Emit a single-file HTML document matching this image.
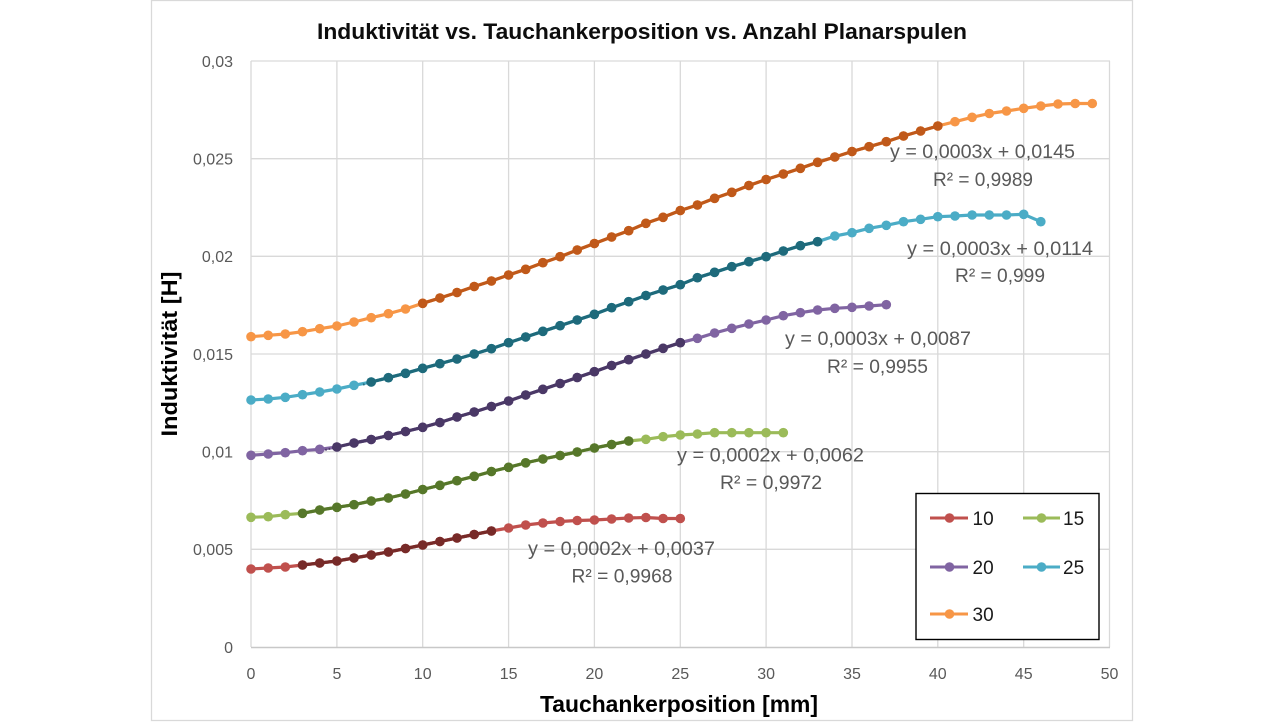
<!DOCTYPE html>
<html>
<head>
<meta charset="utf-8">
<style>
  html,body{margin:0;padding:0;background:#fff;}
  svg{display:block;}
  text{font-family:"Liberation Sans",Arial,sans-serif;}
</style>
</head>
<body>
<svg width="1280" height="722" viewBox="0 0 1280 722" xmlns="http://www.w3.org/2000/svg">
  <defs>
    <marker id="mR" markerUnits="userSpaceOnUse" markerWidth="12" markerHeight="12" refX="6" refY="6" viewBox="0 0 12 12"><circle cx="6" cy="6" r="4.8" fill="#C0504D"/></marker>
    <marker id="mRd" markerUnits="userSpaceOnUse" markerWidth="12" markerHeight="12" refX="6" refY="6" viewBox="0 0 12 12"><circle cx="6" cy="6" r="4.8" fill="#772A28"/></marker>
    <marker id="mG" markerUnits="userSpaceOnUse" markerWidth="12" markerHeight="12" refX="6" refY="6" viewBox="0 0 12 12"><circle cx="6" cy="6" r="4.8" fill="#9BBB59"/></marker>
    <marker id="mGd" markerUnits="userSpaceOnUse" markerWidth="12" markerHeight="12" refX="6" refY="6" viewBox="0 0 12 12"><circle cx="6" cy="6" r="4.8" fill="#56772A"/></marker>
    <marker id="mP" markerUnits="userSpaceOnUse" markerWidth="12" markerHeight="12" refX="6" refY="6" viewBox="0 0 12 12"><circle cx="6" cy="6" r="4.8" fill="#8064A2"/></marker>
    <marker id="mPd" markerUnits="userSpaceOnUse" markerWidth="12" markerHeight="12" refX="6" refY="6" viewBox="0 0 12 12"><circle cx="6" cy="6" r="4.8" fill="#4A3866"/></marker>
    <marker id="mC" markerUnits="userSpaceOnUse" markerWidth="12" markerHeight="12" refX="6" refY="6" viewBox="0 0 12 12"><circle cx="6" cy="6" r="4.8" fill="#4BACC6"/></marker>
    <marker id="mCd" markerUnits="userSpaceOnUse" markerWidth="12" markerHeight="12" refX="6" refY="6" viewBox="0 0 12 12"><circle cx="6" cy="6" r="4.8" fill="#1E6A7B"/></marker>
    <marker id="mO" markerUnits="userSpaceOnUse" markerWidth="12" markerHeight="12" refX="6" refY="6" viewBox="0 0 12 12"><circle cx="6" cy="6" r="4.8" fill="#F79646"/></marker>
    <marker id="mOd" markerUnits="userSpaceOnUse" markerWidth="12" markerHeight="12" refX="6" refY="6" viewBox="0 0 12 12"><circle cx="6" cy="6" r="4.8" fill="#C0591A"/></marker>
  </defs>

  <rect x="0" y="0" width="1280" height="722" fill="#fff"/>
  <rect x="151.5" y="0.5" width="981" height="720" fill="#fff" stroke="#D9D9D9" stroke-width="1.3"/>

  <g stroke="#D9D9D9" stroke-width="1.3">
    <line x1="251" y1="61" x2="1110" y2="61"/>
    <line x1="251" y1="158.7" x2="1110" y2="158.7"/>
    <line x1="251" y1="256.3" x2="1110" y2="256.3"/>
    <line x1="251" y1="354" x2="1110" y2="354"/>
    <line x1="251" y1="451.7" x2="1110" y2="451.7"/>
    <line x1="251" y1="549.3" x2="1110" y2="549.3"/>
    <line x1="251" y1="61" x2="251" y2="647"/>
    <line x1="336.9" y1="61" x2="336.9" y2="647"/>
    <line x1="422.7" y1="61" x2="422.7" y2="647"/>
    <line x1="508.6" y1="61" x2="508.6" y2="647"/>
    <line x1="594.4" y1="61" x2="594.4" y2="647"/>
    <line x1="680.3" y1="61" x2="680.3" y2="647"/>
    <line x1="766.1" y1="61" x2="766.1" y2="647"/>
    <line x1="852" y1="61" x2="852" y2="647"/>
    <line x1="937.8" y1="61" x2="937.8" y2="647"/>
    <line x1="1023.7" y1="61" x2="1023.7" y2="647"/>
    <line x1="1109.5" y1="61" x2="1109.5" y2="647"/>
  </g>
  <line x1="251" y1="647.5" x2="1110" y2="647.5" stroke="#C8C8C8" stroke-width="1.5"/>

  <g fill="#595959" font-size="16" text-anchor="end">
    <text x="233" y="653">0</text>
    <text x="233" y="555">0,005</text>
    <text x="233" y="457.5">0,01</text>
    <text x="233" y="360">0,015</text>
    <text x="233" y="262">0,02</text>
    <text x="233" y="164.5">0,025</text>
    <text x="233" y="67">0,03</text>
  </g>
  <g fill="#595959" font-size="16" text-anchor="middle">
    <text x="251" y="679">0</text>
    <text x="336.9" y="679">5</text>
    <text x="422.7" y="679">10</text>
    <text x="508.6" y="679">15</text>
    <text x="594.4" y="679">20</text>
    <text x="680.3" y="679">25</text>
    <text x="766.1" y="679">30</text>
    <text x="852" y="679">35</text>
    <text x="937.8" y="679">40</text>
    <text x="1023.7" y="679">45</text>
    <text x="1109.5" y="679">50</text>
  </g>

  <text x="317" y="39" font-size="22" font-weight="bold" fill="#0D0D0D" textLength="650" lengthAdjust="spacingAndGlyphs">Induktivität vs. Tauchankerposition vs. Anzahl Planarspulen</text>
  <text x="540" y="712" font-size="23" font-weight="bold" fill="#000" textLength="278" lengthAdjust="spacingAndGlyphs">Tauchankerposition [mm]</text>
  <text transform="translate(177,354) rotate(-90)" x="0" y="0" text-anchor="middle" font-size="22" font-weight="bold" fill="#000" textLength="165" lengthAdjust="spacingAndGlyphs">Induktivität [H]</text>

  <g fill="none" stroke-width="3.2" stroke-linejoin="round">
    <polyline stroke="#C0504D" marker-start="url(#mR)" marker-mid="url(#mR)" marker-end="url(#mR)"
      points="251,569 268.2,568 285.3,567 302.5,565 319.7,563 336.9,561 354,558 371.2,555 388.4,552 405.5,548.5 422.7,545 439.9,541.5 457,538 474.2,534.5 491.4,531 508.6,528 525.7,525 542.9,523 560.1,521.5 577.2,520.5 594.4,520 611.6,519 628.7,518 645.9,517.5 663.1,518.5 680.3,518.5"/>
    <polyline stroke="#772A28" marker-start="url(#mRd)" marker-mid="url(#mRd)" marker-end="url(#mRd)"
      points="302.5,565 319.7,563 336.9,561 354,558 371.2,555 388.4,552 405.5,548.5 422.7,545 439.9,541.5 457,538 474.2,534.5 491.4,531"/>
    <polyline stroke="#9BBB59" marker-start="url(#mG)" marker-mid="url(#mG)" marker-end="url(#mG)"
      points="251,517.3 268.2,516.7 285.3,514.7 302.5,513.3 319.7,510 336.9,507.3 354,504.7 371.2,501 388.4,498 405.5,494 422.7,489.5 439.9,485.3 457,480.7 474.2,476.3 491.4,471.5 508.6,467.3 525.7,462.8 542.9,459 560.1,455.5 577.2,452 594.4,448 611.6,444.5 628.7,441 645.9,439.3 663.1,436.7 680.3,435 697.4,434 714.6,432.7 731.8,432.7 748.9,432.7 766.1,432.7 783.3,432.7"/>
    <polyline stroke="#56772A" marker-start="url(#mGd)" marker-mid="url(#mGd)" marker-end="url(#mGd)"
      points="302.5,513.3 319.7,510 336.9,507.3 354,504.7 371.2,501 388.4,498 405.5,494 422.7,489.5 439.9,485.3 457,480.7 474.2,476.3 491.4,471.5 508.6,467.3 525.7,462.8 542.9,459 560.1,455.5 577.2,452 594.4,448 611.6,444.5 628.7,441"/>
    <polyline stroke="#8064A2" marker-start="url(#mP)" marker-mid="url(#mP)" marker-end="url(#mP)"
      points="251,455.3 268.2,454 285.3,452.7 302.5,450.7 319.7,449.3 336.9,447 354,443 371.2,439.5 388.4,435.5 405.5,431.5 422.7,427.3 439.9,422.5 457,417 474.2,412 491.4,406.5 508.6,401 525.7,395 542.9,389.3 560.1,383.5 577.2,377.5 594.4,371.7 611.6,365.5 628.7,359.7 645.9,354 663.1,348.3 680.3,342.7 697.4,338.3 714.6,333 731.8,328.3 748.9,324 766.1,320 783.3,315.7 800.4,312.7 817.6,310 834.8,308.3 852,307.3 869.1,306 886.3,304.7"/>
    <polyline stroke="#4A3866" marker-start="url(#mPd)" marker-mid="url(#mPd)" marker-end="url(#mPd)"
      points="336.9,447 354,443 371.2,439.5 388.4,435.5 405.5,431.5 422.7,427.3 439.9,422.5 457,417 474.2,412 491.4,406.5 508.6,401 525.7,395 542.9,389.3 560.1,383.5 577.2,377.5 594.4,371.7 611.6,365.5 628.7,359.7 645.9,354 663.1,348.3 680.3,342.7"/>
    <polyline stroke="#4BACC6" marker-start="url(#mC)" marker-mid="url(#mC)" marker-end="url(#mC)"
      points="251,400 268.2,399 285.3,397.3 302.5,394.7 319.7,392 336.9,389 354,385.3 371.2,382 388.4,377.7 405.5,373.3 422.7,368.3 439.9,363.7 457,359 474.2,354 491.4,348.7 508.6,342.7 525.7,337 542.9,331.3 560.1,325.7 577.2,320 594.4,314.3 611.6,307.7 628.7,301.7 645.9,295.5 663.1,290 680.3,284.7 697.4,277.7 714.6,272.3 731.8,266.7 748.9,261.7 766.1,256.7 783.3,251 800.4,245.7 817.6,241.7 834.8,236 852,232.7 869.1,228.3 886.3,225.3 903.5,221.7 920.6,219.3 937.8,216.7 955,216 972.1,215 989.3,215 1006.5,215 1023.7,214.3 1040.8,221.7"/>
    <polyline stroke="#1E6A7B" marker-start="url(#mCd)" marker-mid="url(#mCd)" marker-end="url(#mCd)"
      points="371.2,382 388.4,377.7 405.5,373.3 422.7,368.3 439.9,363.7 457,359 474.2,354 491.4,348.7 508.6,342.7 525.7,337 542.9,331.3 560.1,325.7 577.2,320 594.4,314.3 611.6,307.7 628.7,301.7 645.9,295.5 663.1,290 680.3,284.7 697.4,277.7 714.6,272.3 731.8,266.7 748.9,261.7 766.1,256.7 783.3,251 800.4,245.7 817.6,241.7"/>
    <polyline stroke="#F79646" marker-start="url(#mO)" marker-mid="url(#mO)" marker-end="url(#mO)"
      points="251,336.7 268.2,335.3 285.3,334 302.5,331.7 319.7,328.7 336.9,326 354,322 371.2,317.7 388.4,313.7 405.5,309 422.7,303.3 439.9,298 457,292.5 474.2,286.5 491.4,281 508.6,275 525.7,269.3 542.9,262.7 560.1,256.7 577.2,250 594.4,243.5 611.6,237 628.7,230.7 645.9,223.3 663.1,217.3 680.3,210.5 697.4,205 714.6,198.3 731.8,192.3 748.9,185.5 766.1,179.5 783.3,174 800.4,168.3 817.6,162.3 834.8,157 852,151.5 869.1,146.7 886.3,141.7 903.5,136 920.6,131 937.8,126 955,121.7 972.1,117.3 989.3,113.5 1006.5,111 1023.7,108.3 1040.8,106 1058,104 1075.2,103.5 1092.3,103.5"/>
    <polyline stroke="#C0591A" marker-start="url(#mOd)" marker-mid="url(#mOd)" marker-end="url(#mOd)"
      points="422.7,303.3 439.9,298 457,292.5 474.2,286.5 491.4,281 508.6,275 525.7,269.3 542.9,262.7 560.1,256.7 577.2,250 594.4,243.5 611.6,237 628.7,230.7 645.9,223.3 663.1,217.3 680.3,210.5 697.4,205 714.6,198.3 731.8,192.3 748.9,185.5 766.1,179.5 783.3,174 800.4,168.3 817.6,162.3 834.8,157 852,151.5 869.1,146.7 886.3,141.7 903.5,136 920.6,131 937.8,126"/>
  </g>
  <!-- dotted trendline extensions -->
  <g fill="none" stroke-width="2" stroke-dasharray="1.5,2">
    <line x1="937.8" y1="126" x2="943" y2="123.5" stroke="#C0591A"/>
    <line x1="336.9" y1="447" x2="325" y2="450" stroke="#4A3866"/>
    <line x1="371.2" y1="382" x2="362" y2="385" stroke="#1E6A7B"/>
  </g>

  <g fill="#595959" font-size="19">
    <text x="890" y="158" textLength="185" lengthAdjust="spacingAndGlyphs">y = 0,0003x + 0,0145</text>
    <text x="933" y="186" textLength="100" lengthAdjust="spacingAndGlyphs">R² = 0,9989</text>
    <text x="907" y="255" textLength="186" lengthAdjust="spacingAndGlyphs">y = 0,0003x + 0,0114</text>
    <text x="955" y="282" textLength="90" lengthAdjust="spacingAndGlyphs">R² = 0,999</text>
    <text x="785" y="345" textLength="186" lengthAdjust="spacingAndGlyphs">y = 0,0003x + 0,0087</text>
    <text x="827" y="373" textLength="101" lengthAdjust="spacingAndGlyphs">R² = 0,9955</text>
    <text x="677" y="461.5" textLength="187" lengthAdjust="spacingAndGlyphs">y = 0,0002x + 0,0062</text>
    <text x="720" y="489" textLength="102" lengthAdjust="spacingAndGlyphs">R² = 0,9972</text>
    <text x="528" y="555" textLength="187" lengthAdjust="spacingAndGlyphs">y = 0,0002x + 0,0037</text>
    <text x="571.5" y="582.5" textLength="101" lengthAdjust="spacingAndGlyphs">R² = 0,9968</text>
  </g>

  <rect x="916" y="493.5" width="183" height="146" fill="#fff" stroke="#000" stroke-width="1.4"/>
  <g stroke-width="3">
    <line x1="930" y1="518" x2="968" y2="518" stroke="#C0504D"/>
    <circle cx="949.5" cy="518" r="4.8" fill="#C0504D" stroke="none"/>
    <line x1="1023" y1="518" x2="1060" y2="518" stroke="#9BBB59"/>
    <circle cx="1041.5" cy="518" r="4.8" fill="#9BBB59" stroke="none"/>
    <line x1="930" y1="567" x2="968" y2="567" stroke="#8064A2"/>
    <circle cx="949.5" cy="567" r="4.8" fill="#8064A2" stroke="none"/>
    <line x1="1023" y1="567" x2="1060" y2="567" stroke="#4BACC6"/>
    <circle cx="1041.5" cy="567" r="4.8" fill="#4BACC6" stroke="none"/>
    <line x1="930" y1="614" x2="968" y2="614" stroke="#F79646"/>
    <circle cx="949.5" cy="614" r="4.8" fill="#F79646" stroke="none"/>
  </g>
  <g fill="#1A1A1A" font-size="19">
    <text x="972.5" y="525">10</text>
    <text x="1063" y="525">15</text>
    <text x="972.5" y="574">20</text>
    <text x="1063" y="574">25</text>
    <text x="972.5" y="621">30</text>
  </g>
</svg>
</body>
</html>
